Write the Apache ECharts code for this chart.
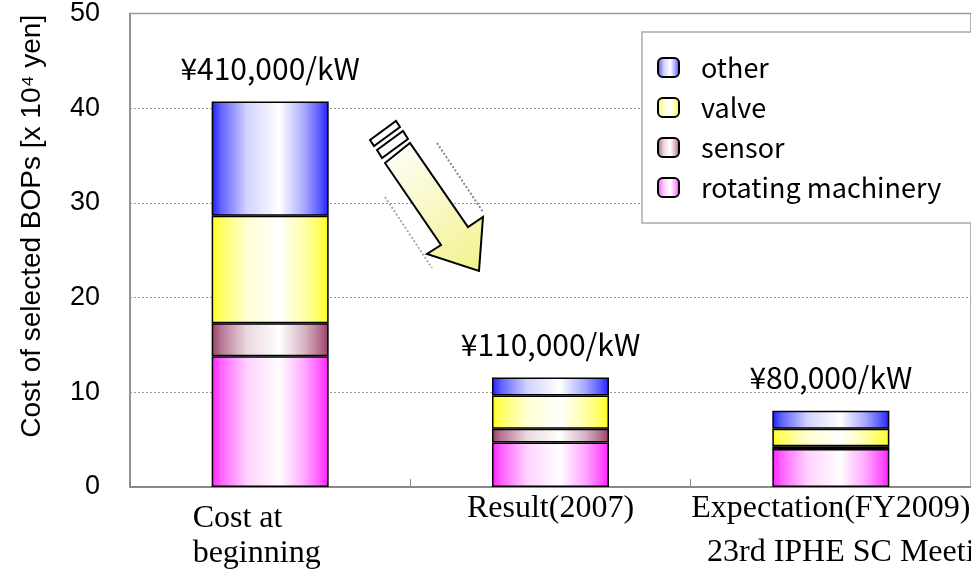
<!DOCTYPE html>
<html>
<head>
<meta charset="utf-8">
<script src="https://cdn.jsdelivr.net/npm/echarts@6/dist/echarts.min.js"></script>
<style>
  html, body { margin: 0; padding: 0; background: #fff; }
  #chart { width: 971px; height: 572px; }
</style>
</head>
<body>
<div id="chart"></div>
<script>
// data (x 10^4 yen)
const categories = ['Cost at\nbeginning', 'Result(2007)', 'Expectation(FY2009)'];
const rotating = [13.8, 4.7, 4.0];
const sensor = [3.5, 1.45, 0.3];
const valve = [11.35, 3.5, 1.85];
const other = [12.05, 1.9, 1.9];
const totalLabels = ['¥410,000/kW', '¥110,000/kW', '¥80,000/kW'];
const legendOrder = ['other', 'valve', 'sensor', 'rotating machinery'];

// mix a hex colour with white
function mix(hex, t) {
  const n = parseInt(hex.slice(1), 16);
  const r = (n >> 16) & 255, g = (n >> 8) & 255, b = n & 255;
  const f = v => Math.round(v + (255 - v) * t);
  return 'rgb(' + f(r) + ',' + f(g) + ',' + f(b) + ')';
}
function grad(c) {
  return new echarts.graphic.LinearGradient(0, 0, 1, 0, [
    { offset: 0, color: c },
    { offset: 0.08, color: mix(c, 0.3) },
    { offset: 0.3, color: mix(c, 0.8) },
    { offset: 0.58, color: '#ffffff' },
    { offset: 0.8, color: mix(c, 0.6) },
    { offset: 0.93, color: mix(c, 0.25) },
    { offset: 1, color: c }
  ]);
}

function barSeries(name, data, c) {
  return {
    name: name,
    type: 'bar',
    stack: 'total',
    barWidth: 117,
    data: data,
    itemStyle: { color: grad(c), borderColor: '#000', borderWidth: 1.5 },
    emphasis: { disabled: true }
  };
}

const chart = echarts.init(document.getElementById('chart'));

const topSeries = barSeries('other', other, '#1e1eff');
topSeries.label = {
  show: true,
  position: 'top',
  distance: 18,
  formatter: p => totalLabels[p.dataIndex],
  fontFamily: 'Noto Sans CJK JP',
  fontSize: 30,
  color: '#000'
};

const option = {
  animation: false,
  backgroundColor: '#fff',
  grid: {
    left: 130, top: 12, width: 857, height: 475,
    show: true, borderColor: '#999', borderWidth: 1.5, backgroundColor: 'transparent'
  },
  legend: {
    data: legendOrder,
    orient: 'vertical',
    left: 642,
    top: 32,
    padding: [22, 60, 22, 15],
    itemWidth: 21,
    itemHeight: 19,
    itemGap: 13,
    backgroundColor: '#fff',
    borderColor: '#aaa',
    borderWidth: 1.5,
    textStyle: { fontFamily: 'Noto Sans CJK JP', fontSize: 27, lineHeight: 27, color: '#000', padding: [0, 0, 0, 17] }
  },
  xAxis: {
    type: 'category',
    data: categories,
    axisLine: { lineStyle: { color: '#888', width: 2 } },
    axisTick: { show: true, inside: true, length: 8, lineStyle: { color: '#888' } },
    axisLabel: {
      margin: 5,
      interval: 0,
      color: '#000',
      fontFamily: 'Liberation Serif',
      fontSize: 32,
      formatter: v => v.indexOf('\n') >= 0
        ? '{s| }\n' + v.split('\n').map(s => '{a|' + s + '}').join('\n')
        : '{b|' + v + '}',
      rich: {
        s: { fontSize: 1, lineHeight: 9 },
        a: { fontFamily: 'Liberation Serif', fontSize: 32, width: 155, align: 'left', lineHeight: 35 },
        b: { fontFamily: 'Liberation Serif', fontSize: 32, lineHeight: 34 }
      }
    }
  },
  yAxis: {
    type: 'value',
    min: 0,
    max: 50,
    interval: 10,
    name: 'Cost of selected BOPs [x 10⁴ yen]',
    nameLocation: 'middle',
    nameGap: 84,
    nameTextStyle: { fontFamily: 'Liberation Sans', fontSize: 28, color: '#000', padding: [0, 0, 0, 48] },
    axisLine: { show: true, lineStyle: { color: '#888', width: 1.5 } },
    axisTick: { show: false },
    axisLabel: { margin: 30, color: '#000', fontFamily: 'Liberation Sans', fontSize: 27 },
    splitLine: { lineStyle: { color: '#999', type: [2, 2], width: 1 } }
  },
  series: [
    barSeries('rotating machinery', rotating, '#ff1eff'),
    barSeries('sensor', sensor, '#993c66'),
    barSeries('valve', valve, '#ffff1e'),
    topSeries
  ],
  graphic: [
    // decorative arrow
    { type: 'polyline', shape: { points: [[437, 143], [483, 212]] }, style: { stroke: '#888', lineWidth: 2, lineDash: [2, 2] }, z: 10 },
    { type: 'polyline', shape: { points: [[385, 197], [432, 268]] }, style: { stroke: '#aaa', lineWidth: 2, lineDash: [2, 2] }, z: 10 },
    {
      type: 'polygon',
      shape: { points: [[385, 163], [410, 143], [468, 227], [483, 217], [479, 271], [427, 254], [441, 245]] },
      style: {
        fill: new echarts.graphic.LinearGradient(0, 0, 1, 1, [
          { offset: 0, color: '#ffffff' },
          { offset: 1, color: '#f2f28a' }
        ]),
        stroke: '#000', lineWidth: 2
      },
      z: 11
    },
    { type: 'polygon', shape: { points: [[377, 150], [403, 131], [408, 139], [382, 158]] }, style: { fill: '#fff', stroke: '#000', lineWidth: 2 }, z: 11 },
    { type: 'polygon', shape: { points: [[370, 140], [396, 121], [400, 127], [374, 146]] }, style: { fill: '#fff', stroke: '#000', lineWidth: 2 }, z: 11 },
    // footer
    {
      type: 'text', left: 707, top: 537,
      style: { text: '23rd IPHE SC Meeting', fontFamily: 'Liberation Serif', fontSize: 32, fill: '#000' },
      z: 11
    }
  ]
};

chart.setOption(option);
</script>
</body>
</html>
